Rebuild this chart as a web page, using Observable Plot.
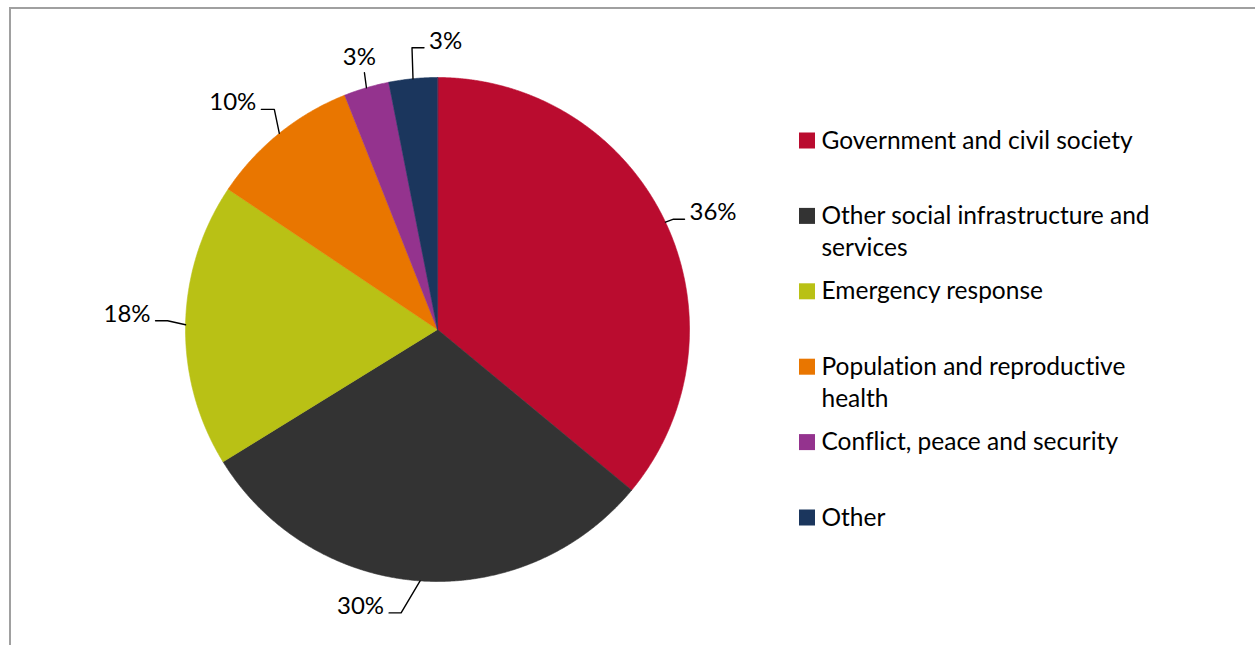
<!DOCTYPE html>
<html><head><meta charset="utf-8">
<script src="https://cdn.jsdelivr.net/npm/d3@7"></script>
<script src="https://cdn.jsdelivr.net/npm/@observablehq/plot@0.6"></script>
<style>
body{margin:0;background:#fff;}
#wrap{position:relative;width:1255px;height:645px;overflow:hidden;background:#fff;}
#border{position:absolute;left:9px;top:7px;right:-5px;bottom:-5px;border-top:2px solid #a0a0a0;border-left:2px solid #a0a0a0;}
#chart{position:absolute;left:0;top:0;}
#chart svg text{font-variant-ligatures:none;font-feature-settings:"liga" 0;}
</style></head><body>
<div id="wrap"><div id="border"></div><div id="chart"></div></div>
<script>
// ---- data ----
const categories = ["Government and civil society","Other social infrastructure and services","Emergency response","Population and reproductive health","Conflict, peace and security","Other"];
const values = [36.0, 30.2, 18.2, 9.6, 2.9, 3.1];
const colors = ["#BA0C2F","#333333","#B9C115","#E97600","#94338E","#1B365D"];
const legendLabels = ["Government and civil society","Other social infrastructure and\nservices","Emergency response","Population and reproductive\nhealth","Conflict, peace and security","Other"];

// ---- layout ----
const W = 1255, H = 645;
const cx = 437, cy = 329, R = 252;
const FONT = "Lato, 'Open Sans', sans-serif";
const labelSize = 24, legendSize = 24.5, legendLineGap = 32;
// leader layout: elbow offset from slice edge, horizontal tail length, text side
const leader = [
  {ex: 8, ey: -3, h: 11, side: "right"},
  {ex: -19, ey: 32, h: -12, side: "left"},
  {ex: -18, ey: -4, h: -12, side: "left"},
  {ex: -5, ey: -24, h: -13, side: "left"},
  {ex: -2, ey: -15, h: 0, side: "top"},
  {ex: -1, ey: -31, h: 12, side: "right"}
];
const legendX = 799, legendY0 = 140.5, legendStep = 75.4, sw = 16;

const data = categories.map((c, i) => ({cat: c, value: values[i]}));
const total = d3.sum(values);
const arcs = d3.pie().sort(null).value(d => d.value)(data);
const pt = (a, r) => [cx + r * Math.sin(a), cy - r * Math.cos(a)];

// slice polygons
const polys = [];
arcs.forEach(a => {
  const n = Math.max(4, Math.ceil((a.endAngle - a.startAngle) / (Math.PI / 720)));
  polys.push({cat: a.data.cat, x: cx, y: cy});
  for (let k = 0; k <= n; k++) {
    const ang = a.startAngle + (a.endAngle - a.startAngle) * k / n;
    const [x, y] = pt(ang, R);
    polys.push({cat: a.data.cat, x, y});
  }
});

// leaders & labels
const leaderPts = [];
const labels = [];
const fmt = d3.format(".0%");
arcs.forEach((a, i) => {
  const mid = (a.startAngle + a.endAngle) / 2;
  const [x0, y0] = pt(mid, R);
  const L = leader[i];
  const x1 = x0 + L.ex, y1 = y0 + L.ey;
  const x2 = x1 + L.h, y2 = y1;
  leaderPts.push({cat: a.data.cat, x: x0, y: y0}, {cat: a.data.cat, x: x1, y: y1});
  if (L.h !== 0) leaderPts.push({cat: a.data.cat, x: x2, y: y2});
  const t = fmt(a.data.value / total);
  if (L.side === "right") labels.push({x: x2 + 5, y: y2 + 1, t, anchor: "start"});
  else if (L.side === "left") labels.push({x: x2 - 5, y: y2 + 1, t, anchor: "end"});
  else labels.push({x: x1 - 5, y: y1 - 8, t, anchor: "middle"});
});

const legendItems = categories.map((c, i) => ({cat: c, y: legendY0 + i * legendStep}));
const legendLines = [];
legendLabels.forEach((lab, i) => {
  lab.split("\n").forEach((line, k) => {
    legendLines.push({text: line, y: legendItems[i].y + 7.5 + k * legendLineGap});
  });
});

const labelMark = anchor => Plot.text(labels.filter(d => d.anchor === anchor), {
  x: "x", y: "y", text: "t", textAnchor: anchor, lineAnchor: "bottom", fontSize: labelSize, fill: "#000"
});

const chart = Plot.plot({
  width: W, height: H, margin: 0,
  style: {fontFamily: FONT, background: "transparent", overflow: "visible"},
  x: {domain: [0, W], range: [0, W], axis: null},
  y: {domain: [0, H], range: [0, H], axis: null},
  color: {domain: categories, range: colors},
  marks: [
    Plot.line(polys, {x: "x", y: "y", z: "cat", fill: "cat", stroke: "cat", strokeWidth: 0.6, curve: "linear-closed"}),
    Plot.line(leaderPts, {x: "x", y: "y", z: "cat", stroke: "#000", strokeWidth: 1.4}),
    labelMark("start"), labelMark("end"), labelMark("middle"),
    Plot.rect(legendItems, {x1: d => legendX, x2: d => legendX + sw, y1: d => d.y - sw / 2, y2: d => d.y + sw / 2, fill: "cat"}),
    Plot.text(legendLines, {x: d => legendX + sw + 6, y: "y", text: "text", textAnchor: "start", lineAnchor: "bottom", fontSize: legendSize, fill: "#000"})
  ]
});
document.getElementById("chart").appendChild(chart);
</script>
</body></html>
